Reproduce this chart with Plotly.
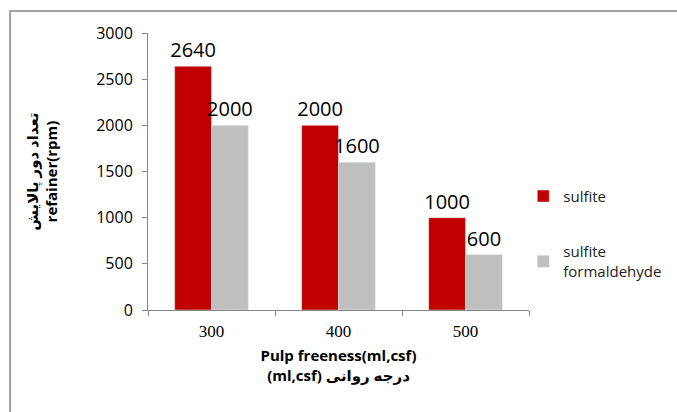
import plotly.graph_objects as go

categories = ["300", "400", "500"]
sulfite = [2640, 2000, 1000]
sulfite_formaldehyde = [2000, 1600, 600]
series_names = ["sulfite", "sulfite<br>formaldehyde"]

font_family = "Open Sans, Liberation Sans, DejaVu Sans"
fig = go.Figure()
fig.add_trace(go.Bar(x=categories, y=sulfite, name=series_names[0], marker_color="#C00000",
                     text=[str(v) for v in sulfite], textposition="outside", constraintext="none",
                     textfont=dict(size=20, color="black"), cliponaxis=False, legendgroup="a"))
fig.add_trace(go.Bar(x=categories, y=sulfite_formaldehyde, name=series_names[1], marker_color="#BFBFBF",
                     text=[str(v) for v in sulfite_formaldehyde], textposition="outside", constraintext="none",
                     textfont=dict(size=20, color="black"), cliponaxis=False, legendgroup="b"))

fig.update_layout(
    width=677, height=412,
    margin=dict(l=148, r=148, t=33, b=102, autoexpand=False),
    paper_bgcolor="white", plot_bgcolor="white",
    font=dict(family=font_family, size=15, color="black"),
    barmode="group", bargap=0.42, bargroupgap=0,
    showlegend=True,
    legend=dict(x=0.985, y=0.47, xanchor="left", yanchor="top", tracegroupgap=33,
                font=dict(size=15, color="#222"), itemwidth=30, bgcolor="rgba(0,0,0,0)"),
    xaxis=dict(showline=True, linecolor="#868686", ticks="outside", tickson="boundaries",
               ticklen=5, tickcolor="#868686", automargin=False, ticklabelstandoff=6,
               tickfont=dict(size=17, family="Liberation Serif, DejaVu Serif"),
               title=dict(text="<b>Pulp freeness(ml,csf)<br>(ml,csf) درجه روانی</b>",
                          font=dict(size=15), standoff=10)),
    yaxis=dict(range=[0, 3000], dtick=500, showline=True, linecolor="#868686", ticks="outside",
               ticklen=5, tickcolor="#868686", showgrid=False, tickfont=dict(size=16),
               automargin=False, ticklabelstandoff=6,
               title=dict(text="<b>تعداد دور پالایش<br>refainer(rpm)</b>", font=dict(size=15),
                          standoff=34)),
)
fig.add_shape(type="rect", xref="paper", yref="paper", x0=-0.362, x1=1.5, y0=-0.5, y1=1.079,
              line=dict(color="#A0A0A0", width=2), fillcolor="rgba(0,0,0,0)", layer="below")
fig.write_html("out.html", config={"displayModeBar": False},
               post_script="document.body.style.margin='0';")
